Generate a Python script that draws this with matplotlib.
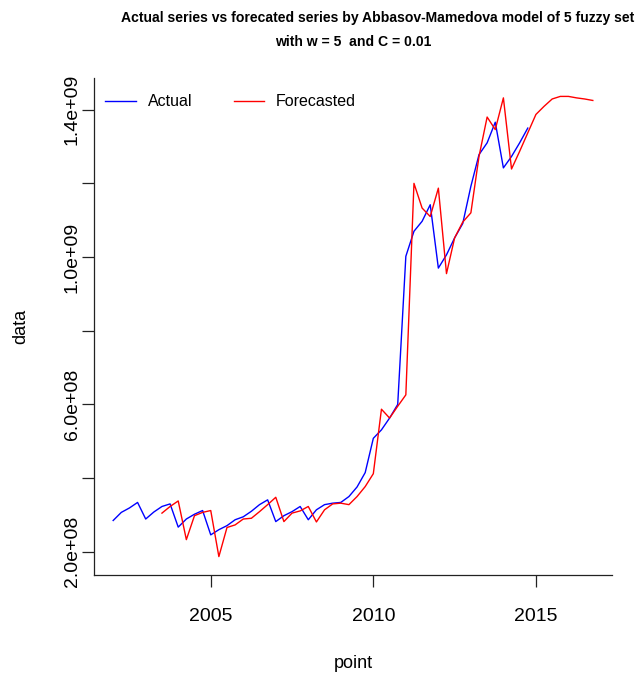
import numpy as np
import matplotlib
matplotlib.use('Agg')
import matplotlib.pyplot as plt

plt.rcParams['font.family'] = ['Liberation Sans', 'DejaVu Sans']

# quarterly series, values in 1e8
actual_start = 2002.0
actual = [2.85, 3.07, 3.19, 3.34, 2.89, 3.08, 3.23, 3.30, 2.67, 2.89, 3.02, 3.12,
          2.46, 2.60, 2.71, 2.87, 2.95, 3.10, 3.28, 3.41, 2.82, 2.98, 3.09, 3.23,
          2.87, 3.14, 3.28, 3.32, 3.34, 3.50, 3.76, 4.15, 5.08, 5.31, 5.63, 6.00,
          10.02, 10.70, 10.97, 11.42, 9.70, 10.06, 10.52, 10.91, 11.92, 12.78, 13.10, 13.66,
          12.42, 12.73, 13.10, 13.50]

forecast_start = 2003.5
forecast = [3.05, 3.23, 3.38, 2.33, 2.98, 3.07, 3.12, 1.87, 2.66, 2.73,
            2.89, 2.91, 3.09, 3.28, 3.48, 2.82, 3.05, 3.11, 3.23, 2.81,
            3.14, 3.30, 3.32, 3.28, 3.50, 3.77, 4.12, 5.87, 5.63, 5.95,
            6.26, 12.00, 11.33, 11.10, 11.87, 9.55, 10.52, 10.95, 11.20, 12.73,
            13.80, 13.46, 14.32, 12.39, 12.87, 13.37, 13.87, 14.09, 14.29, 14.36,
            14.36, 14.32, 14.29, 14.25]

x_act = actual_start + np.arange(len(actual)) / 4
x_fc = forecast_start + np.arange(len(forecast)) / 4
y_act = np.array(actual) * 1e8
y_fc = np.array(forecast) * 1e8

fig = plt.figure(figsize=(6.44, 6.76), dpi=100)
ax = fig.add_axes([94/644, 1 - 575/676, (612 - 94)/644, (575 - 78)/676])

ax.plot(x_act, y_act, color='#0000FF', lw=1.0, label='Actual')
ax.plot(x_fc, y_fc, color='#FF0000', lw=1.0, label='Forecasted')

# R style 4% padding
xmin, xmax = x_act.min(), x_fc.max()
ymin, ymax = min(y_act.min(), y_fc.min()), max(y_act.max(), y_fc.max())
ax.set_xlim(xmin - 0.04*(xmax - xmin), xmax + 0.04*(xmax - xmin))
ax.set_ylim(ymin - 0.04*(ymax - ymin), ymax + 0.04*(ymax - ymin))

ax.spines['top'].set_visible(False)
ax.spines['right'].set_visible(False)
for s in ['left', 'bottom']:
    ax.spines[s].set_linewidth(0.9)
    ax.spines[s].set_color('#222222')

ax.set_xticks([2005, 2010, 2015])
ax.set_xticklabels(['2005', '2010', '2015'])
yt = np.arange(2e8, 1.41e9, 2e8)
ax.set_yticks(yt)
ax.set_yticklabels(['2.0e+08', '', '6.0e+08', '', '1.0e+09', '', '1.4e+09'],
                   rotation=90, va='center')
ax.tick_params(axis='both', length=8.6, width=0.9, labelsize=14, color='#222222')
ax.tick_params(axis='x', pad=15)
ax.tick_params(axis='y', pad=1)

ax.set_xlabel('point', fontsize=13, labelpad=22)
ax.set_ylabel('data', fontsize=13, labelpad=25)

ax.legend(loc='upper left', ncol=2, frameon=False, fontsize=11.5,
          handlelength=1.9, columnspacing=2.6, handletextpad=0.75,
          bbox_to_anchor=(0.0, 0.99), borderaxespad=0.3)

fig.text(378/644, 1 - 18/676, 'Actual series vs forecated series by Abbasov-Mamedova model of 5 fuzzy set',
         ha='center', va='center', fontsize=10.1, fontweight='bold')
fig.text(353/644, 1 - 42/676, 'with w = 5  and C = 0.01',
         ha='center', va='center', fontsize=10.1, fontweight='bold')

fig.savefig('out.png', dpi=100)
